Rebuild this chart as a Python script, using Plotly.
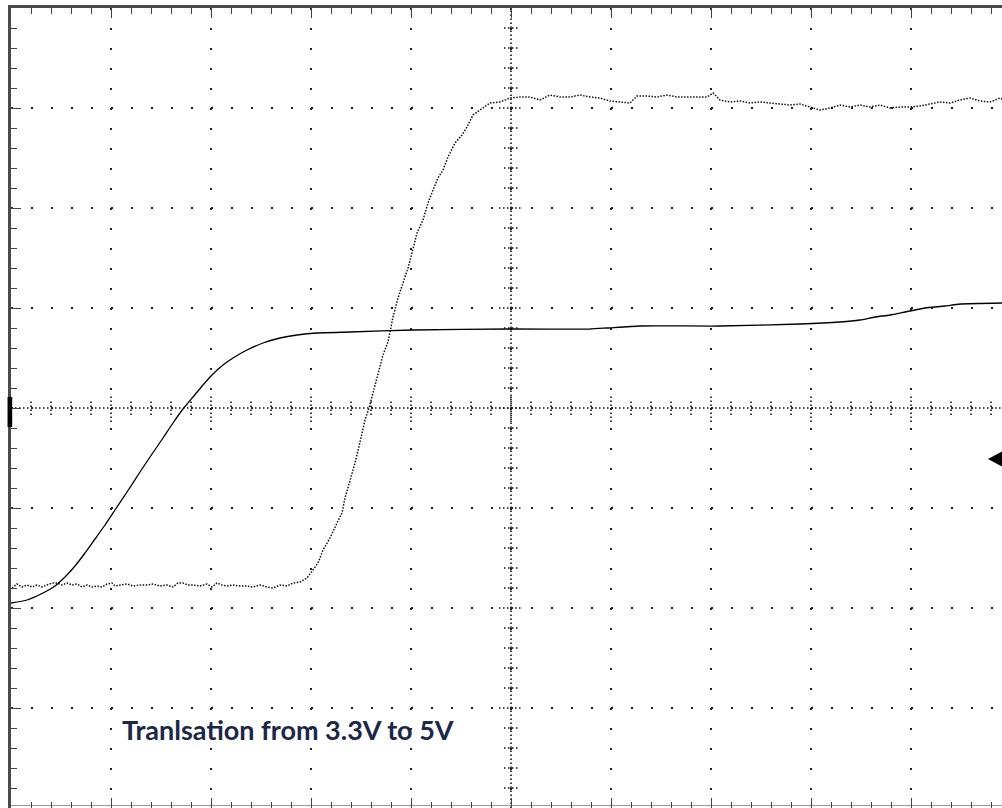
import plotly.graph_objects as go

# Oscilloscope screen units: x in horizontal divisions (0..10), y in vertical divisions (-4..4)

# Channel A (solid trace, slower rise)
ch_a_t = [0.00, 0.16, 0.32, 0.44, 0.54, 0.64, 0.74, 0.84, 0.94, 1.04, 1.16, 1.29, 1.39, 1.52, 1.62,
          1.72, 1.82, 1.92, 2.02, 2.12, 2.22, 2.36, 2.52, 2.69, 2.86, 3.06, 3.39, 4.02, 4.99,
          5.79, 5.96, 6.29, 7.09, 7.89, 8.29, 8.49, 8.64, 8.79, 8.94, 9.04, 9.14, 9.34, 9.49, 9.91]
ch_a_v = [-1.95, -1.92, -1.85, -1.78, -1.69, -1.58, -1.45, -1.31, -1.17, -1.02, -0.84, -0.64, -0.49, -0.30, -0.15,
          -0.01, 0.11, 0.23, 0.34, 0.43, 0.50, 0.58, 0.65, 0.70, 0.73, 0.75, 0.76, 0.78, 0.79,
          0.79, 0.80, 0.82, 0.82, 0.84, 0.86, 0.88, 0.91, 0.93, 0.96, 0.98, 1.00, 1.02, 1.04, 1.05]

# Channel B (dotted noisy trace, 3.3V -> 5V translated output)
ch_b_t = [0.01, 0.06, 0.11, 0.16, 0.21, 0.26, 0.31, 0.36, 0.41, 0.46, 0.51, 0.56, 0.61, 0.66,
          0.71, 0.76, 0.81, 0.86, 0.91, 0.96, 1.01, 1.04, 1.09, 1.16, 1.22, 1.29, 1.36, 1.42,
          1.49, 1.56, 1.62, 1.67, 1.72, 1.77, 1.82, 1.89, 1.96, 2.01, 2.06, 2.11, 2.16, 2.22,
          2.29, 2.36, 2.42, 2.49, 2.56, 2.62, 2.69, 2.76, 2.82, 2.89, 2.96, 3.02, 3.07,
          3.12, 3.19, 3.26, 3.31, 3.34, 3.39, 3.44, 3.49, 3.54, 3.58, 3.62, 3.67, 3.72, 3.77,
          3.82, 3.87, 3.92, 3.97, 4.01, 4.06, 4.12, 4.17, 4.22, 4.27, 4.32, 4.37, 4.44, 4.51,
          4.56, 4.62, 4.69, 4.79, 4.89,
          4.99, 5.09, 5.19, 5.29, 5.39, 5.49, 5.59, 5.69, 5.79, 5.89, 5.99, 6.09, 6.19, 6.26,
          6.36, 6.46, 6.56, 6.66, 6.76, 6.86, 6.96, 7.02, 7.09, 7.19, 7.29, 7.39, 7.49, 7.59,
          7.69, 7.79, 7.89, 7.99, 8.09, 8.19, 8.29, 8.39, 8.49, 8.59, 8.69, 8.79, 8.89, 8.99,
          9.09, 9.19, 9.29, 9.39, 9.49, 9.59, 9.69, 9.79, 9.89, 9.91]
ch_b_v = [-1.80, -1.76, -1.79, -1.77, -1.79, -1.77, -1.79, -1.77, -1.75, -1.75, -1.77, -1.75, -1.77, -1.76,
          -1.79, -1.77, -1.79, -1.78, -1.79, -1.76, -1.75, -1.78, -1.77, -1.76, -1.78, -1.77, -1.77, -1.76,
          -1.78, -1.77, -1.79, -1.75, -1.75, -1.77, -1.77, -1.78, -1.76, -1.79, -1.75, -1.77, -1.78, -1.77,
          -1.78, -1.78, -1.79, -1.77, -1.79, -1.80, -1.77, -1.78, -1.75, -1.74, -1.70, -1.62, -1.55,
          -1.42, -1.30, -1.15, -1.05, -0.90, -0.72, -0.55, -0.34, -0.12, 0.00, 0.16, 0.33, 0.53, 0.66,
          0.91, 1.10, 1.25, 1.40, 1.55, 1.75, 1.88, 2.05, 2.18, 2.30, 2.38, 2.51, 2.65, 2.73,
          2.81, 2.93, 2.98, 3.05, 3.06,
          3.10, 3.11, 3.11, 3.08, 3.13, 3.11, 3.11, 3.13, 3.11, 3.10, 3.07, 3.06, 3.05, 3.12,
          3.12, 3.11, 3.13, 3.11, 3.11, 3.11, 3.11, 3.15, 3.08, 3.06, 3.07, 3.05, 3.06, 3.05,
          3.04, 3.03, 3.04, 3.01, 2.98, 3.00, 3.03, 3.01, 3.03, 3.01, 3.03, 3.00, 3.01, 3.01,
          3.02, 3.04, 3.06, 3.05, 3.08, 3.10, 3.07, 3.06, 3.10, 3.09]

caption = "Tranlsation from 3.3V to 5V"
ground_level = -0.04      # channel ground marker (divisions)
trigger_level = -0.51     # trigger level marker (divisions)

X_MAX = 9.91
GRID_C = "#222222"

fig = go.Figure()
fig.add_trace(go.Scatter(x=ch_b_t, y=ch_b_v, mode="lines",
                         line=dict(color="#111111", width=1.5, dash="1.5px,1.5px"),
                         hoverinfo="skip"))
fig.add_trace(go.Scatter(x=ch_a_t, y=ch_a_v, mode="lines",
                         line=dict(color="#000000", width=1.3, shape="spline", smoothing=0.5),
                         hoverinfo="skip"))

shapes = []
# centre crosshair (denser dotted)
shapes.append(dict(type="line", xref="x", yref="y", x0=0, x1=X_MAX, y0=0, y1=0,
                   line=dict(color="#111111", width=1.6, dash="1.5px,2.5px"), layer="below"))
shapes.append(dict(type="line", xref="x", yref="y", x0=5, x1=5, y0=-4, y1=4,
                   line=dict(color="#111111", width=1.6, dash="1.5px,2.5px"), layer="below"))
# ticks on centre crosshair
for k in range(1, 50):
    xv = k * 0.2
    h = 0.14 if k % 5 == 0 else 0.07
    shapes.append(dict(type="line", xref="x", yref="y", x0=xv, x1=xv, y0=-h, y1=h,
                       line=dict(color="#111111", width=1.6, dash="1.5px,2.5px"), layer="below"))
for k in range(1, 40):
    yv = -4 + k * 0.2
    h = 0.12 if k % 5 == 0 else 0.07
    shapes.append(dict(type="line", xref="x", yref="y", x0=5 - h, x1=5 + h, y0=yv, y1=yv,
                       line=dict(color="#111111", width=1.6, dash="1.5px,2.5px"), layer="below"))
# bottom frame line (thin, grey)
shapes.append(dict(type="line", xref="x", yref="y", x0=0, x1=X_MAX, y0=-3.975, y1=-3.975,
                   line=dict(color="#9a9a9a", width=1), layer="below"))
# ground marker at left edge
shapes.append(dict(type="rect", xref="paper", yref="y", x0=-0.0035, x1=0.0012,
                   y0=ground_level - 0.15, y1=ground_level + 0.15,
                   fillcolor="#000000", line=dict(width=0)))
# trigger level arrow at right edge
shapes.append(dict(type="path", xref="x", yref="y",
                   path=f"M 9.77,{trigger_level} L 9.95,{trigger_level - 0.095} L 9.95,{trigger_level + 0.095} Z",
                   fillcolor="#000000", line=dict(width=0)))

axis_common = dict(
    showgrid=True, gridcolor=GRID_C, gridwidth=1.5,
    zeroline=False, showticklabels=False,
    showline=True, linecolor="#4a4a4a", linewidth=3,
    ticks="inside", ticklen=10, tickwidth=1, tickcolor="#444444",
    dtick=1, tick0=0,
    minor=dict(ticks="inside", ticklen=6, tickwidth=1, tickcolor="#444444",
               dtick=0.2, tick0=0, showgrid=False),
    fixedrange=True,
)

fig.update_layout(
    width=1002, height=808,
    margin=dict(l=11, r=0, t=8, b=0, pad=0),
    paper_bgcolor="white", plot_bgcolor="white",
    showlegend=False,
    xaxis=dict(range=[0, X_MAX], griddash="1.5px,18.5px", mirror="ticks", **axis_common),
    yaxis=dict(range=[-4, 4], griddash="1.5px,18.5px", mirror=False, **axis_common),
    shapes=shapes,
    annotations=[dict(text=f"<b>{caption}</b>", xref="x", yref="y", x=1.09, y=-3.21,
                      xanchor="left", yanchor="middle", showarrow=False,
                      font=dict(family="Lato, 'Open Sans', sans-serif", size=27, color="#1c2848"))],
)

fig.write_html("out.html",
               config={"displayModeBar": False},
               post_script="document.body.style.margin='0';"
                           "document.documentElement.style.overflow='hidden';"
                           "document.body.style.overflow='hidden';")
